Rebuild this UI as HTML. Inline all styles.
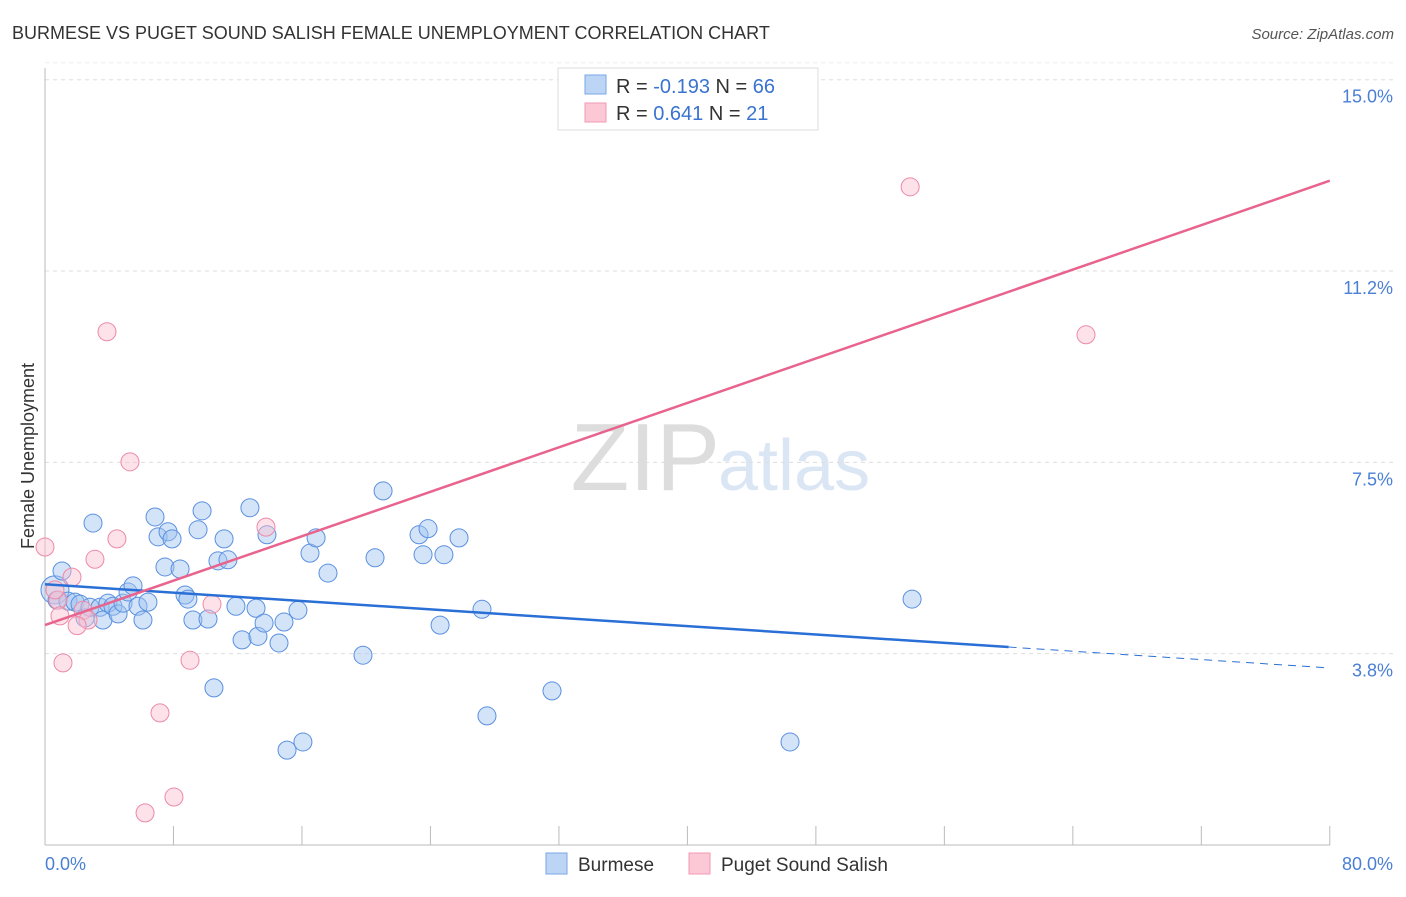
<!DOCTYPE html><html><head><meta charset="utf-8"><style>
body{margin:0;background:#fff;font-family:"Liberation Sans",sans-serif}
svg text{font-family:"Liberation Sans",sans-serif}
</style></head><body>
<svg width="1406" height="892" xmlns="http://www.w3.org/2000/svg">
<text x="12" y="39" font-size="18" fill="#333">BURMESE VS PUGET SOUND SALISH FEMALE UNEMPLOYMENT CORRELATION CHART</text>
<text x="1394" y="39" font-size="15" fill="#555" text-anchor="end" font-style="italic">Source: ZipAtlas.com</text>
<text x="720" y="490" font-size="96" fill="#ddd" text-anchor="end" font-family="Liberation Serif">ZIP</text>
<text x="718" y="490" font-size="72" fill="#dbe6f5">atlas</text>
<g id="grid"></g>
<line x1="45" y1="68" x2="45" y2="845" stroke="#bbb"/>
<line x1="45" y1="845" x2="1330" y2="845" stroke="#bbb"/>
<text transform="translate(34,456) rotate(-90)" font-size="18" fill="#333" text-anchor="middle">Female Unemployment</text>
<text x="45" y="870" font-size="18" fill="#4a7fd4">0.0%</text>
<text x="1393" y="870" font-size="18" fill="#4a7fd4" text-anchor="end">80.0%</text>
<g id="marks"></g>
<g>
<rect x="558" y="68" width="260" height="62" fill="#fff" stroke="#ddd"/>
<rect x="585" y="75" width="21" height="19" fill="#bcd5f5" stroke="#7aa6e6"/>
<rect x="585" y="103" width="21" height="19" fill="#fcc8d6" stroke="#f09ab2"/>
<text x="616" y="93" font-size="20" fill="#333">R = <tspan fill="#3a73d0">-0.193</tspan>   N = <tspan fill="#3a73d0">66</tspan></text>
<text x="616" y="120" font-size="20" fill="#333">R =  <tspan fill="#3a73d0">0.641</tspan>   N =  <tspan fill="#3a73d0">21</tspan></text>
</g>
<g>
<rect x="546" y="853" width="21" height="21" fill="#bcd5f5" stroke="#7aa6e6"/>
<text x="578" y="871" font-size="19" fill="#333">Burmese</text>
<rect x="689" y="853" width="21" height="21" fill="#fcc8d6" stroke="#f09ab2"/>
<text x="721" y="871" font-size="19" fill="#333">Puget Sound Salish</text>
</g>
</svg>
<script>
const yTicks=[3.75,7.5,11.25,15];
const yTickLabels=["3.8%","7.5%","11.2%","15.0%"];
const xTicks=[0,8,16,24,32,40,48,56,64,72,80];
const blueX=[0.62,1.06,0.75,1.43,1.87,2.18,2.49,2.8,2.99,3.43,3.61,3.92,4.23,4.55,4.86,5.17,5.48,5.79,6.1,6.41,6.85,7.04,7.47,7.66,7.91,8.41,8.72,8.9,9.21,9.53,9.78,10.15,10.52,10.77,11.15,11.39,11.89,12.27,12.76,13.14,13.26,13.64,13.82,14.57,14.88,15.07,15.75,16.06,16.5,16.88,17.62,19.8,20.55,21.05,23.29,23.54,23.85,24.6,24.84,25.78,27.21,27.52,31.57,46.39,53.99];
const blueY=[5.0,5.37,4.8,4.78,4.76,4.72,4.45,4.66,6.31,4.66,4.41,4.74,4.68,4.53,4.74,4.96,5.08,4.68,4.41,4.76,6.43,6.04,5.45,6.14,6.0,5.41,4.9,4.82,4.41,6.18,6.55,4.43,3.08,5.57,6.0,5.59,4.68,4.02,6.61,4.64,4.09,4.35,6.08,3.96,4.37,1.86,4.6,2.02,5.72,6.02,5.33,3.72,5.63,6.94,6.08,5.69,6.2,4.31,5.69,6.02,4.62,2.53,3.02,2.02,4.82];
const pinkX=[0,0.81,1.12,1.68,0.93,2.37,2.68,3.11,3.86,4.48,5.29,7.16,8.03,6.23,9.03,10.4,13.76,53.87,64.82,0.62,2.0];
const pinkY=[5.84,4.8,3.57,5.25,4.49,4.6,4.41,5.6,10.06,6.0,7.51,2.59,0.94,0.63,3.62,4.72,6.23,12.9,10.0,5.0,4.3];
const blueLine=[[0,5.11],[60,3.88],[80,3.47]];
const pinkLine=[[0,4.31],[80,13.02]];
const X=v=>45+v*16.06, Y=v=>845-v*51.02;
const NS="http://www.w3.org/2000/svg";
const grid=document.getElementById('grid'), marks=document.getElementById('marks'), svg=document.querySelector('svg');
function mk(t,a,p){const e=document.createElementNS(NS,t);for(const k in a)e.setAttribute(k,a[k]);p.appendChild(e);return e;}
yTicks.forEach((v,i)=>{
 const l=mk('line',{x1:45,x2:1393,y1:Y(v),y2:Y(v),stroke:'#ddd','stroke-dasharray':'4,4'},grid);
 
 
 const t=mk('text',{x:1393,y:Y(v)+23,'font-size':18,fill:'#4a7fd4','text-anchor':'end'},svg);
 t.textContent=yTickLabels[i];
 
 
});
mk('line',{x1:45,x2:1393,y1:Y(15)-17,y2:Y(15)-17,stroke:'#eee','stroke-dasharray':'4,4'},grid);
xTicks.forEach(v=>{
 const l=mk('line',{x1:X(v),x2:X(v),y1:845,y2:826,stroke:'#bbb'},grid);
 
 
});
blueX.forEach((v,i)=>{
 const c=mk('circle',{cx:X(v),cy:Y(blueY[i]),r:i==0?14:9,fill:'rgba(160,196,240,0.45)',stroke:'#5a90e0','stroke-width':1},marks);
 
 
});
pinkX.forEach((v,i)=>{
 const c=mk('circle',{cx:X(v),cy:Y(pinkY[i]),r:9,fill:'rgba(250,190,208,0.45)',stroke:'#ec8aa8','stroke-width':1},marks);
 
 
});
let b=mk('line',{x1:X(blueLine[0][0]),y1:Y(blueLine[0][1]),x2:X(blueLine[1][0]),y2:Y(blueLine[1][1]),stroke:'#2a6fd6','stroke-width':2.5},marks);


b=mk('line',{x1:X(blueLine[1][0]),y1:Y(blueLine[1][1]),x2:X(blueLine[2][0]),y2:Y(blueLine[2][1]),stroke:'#2a6fd6','stroke-width':1,'stroke-dasharray':'8,6'},marks);


const p=mk('line',{x1:X(pinkLine[0][0]),y1:Y(pinkLine[0][1]),x2:X(pinkLine[1][0]),y2:Y(pinkLine[1][1]),stroke:'#e8648e','stroke-width':2.5},marks);


</script>
</body></html>
